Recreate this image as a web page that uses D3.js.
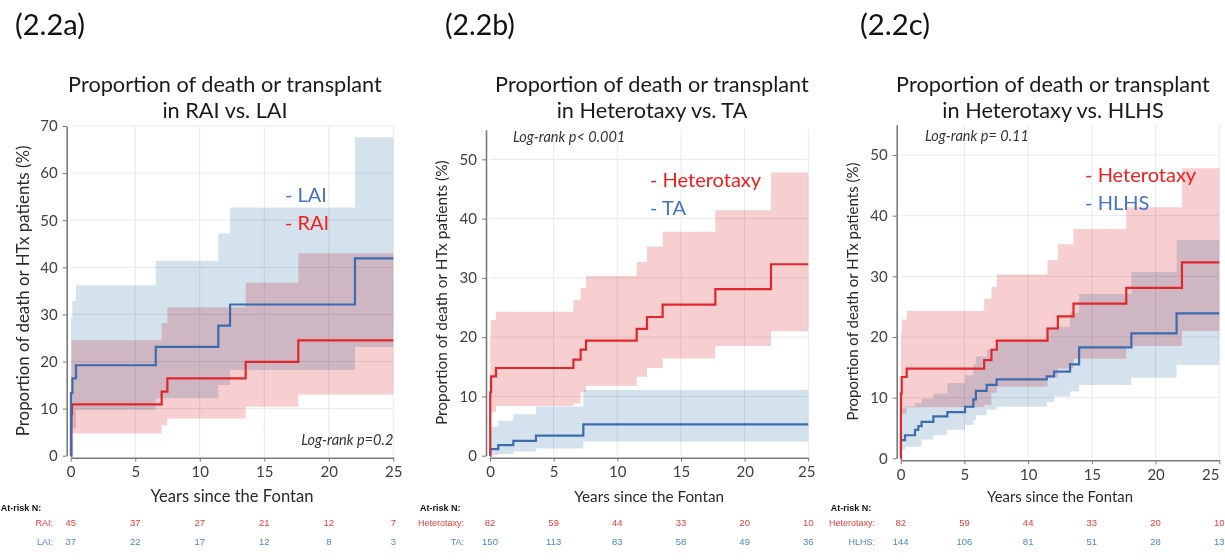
<!DOCTYPE html>
<html>
<head>
<meta charset="utf-8">
<script src="https://cdn.jsdelivr.net/npm/d3@7"></script>
<style>
  body { margin: 0; background: #fff; }
  svg { display: block; }
  text { font-family: Lato, "Open Sans", sans-serif; }
  .risk text { font-family: "Liberation Sans", Arial, sans-serif; }
  .axis path, .axis line { stroke: #7a7a7a; }
  .axis text { fill: #404040; font-size: 15px; font-family: Lato, "Open Sans", sans-serif; }
</style>
</head>
<body>
<script>

// Years on the x axis, same for all three panels
var yearTicks = [0, 5, 10, 15, 20, 25];

// (2.2a) RAI
var raiTimes   = [0, 0.06, 0.1, 7.05, 7.49, 13.56, 17.64, 25];
var raiValues  = [0, 8.8, 10.9, 13.6, 16.4, 19.9, 24.5, 24.5];
var raiCiTimes = [0.06, 7.05, 7.49, 13.56, 17.64, 25];
var raiUpper   = [24.5, 28.1, 31.5, 36.7, 43.0, 43.0];
var raiLower   = [4.7, 6.4, 7.9, 10.4, 13.0, 13.0];
var raiAtRisk  = [45, 37, 27, 21, 12, 7];

// (2.2a) LAI
var laiTimes   = [0, 0.02, 0.13, 0.41, 6.59, 11.44, 12.35, 22.03, 25];
var laiValues  = [0, 13.3, 16.4, 19.2, 23.1, 27.6, 32.1, 41.9, 41.9];
var laiCiTimes = [0.02, 0.13, 0.41, 6.59, 11.44, 12.35, 22.03, 25];
var laiUpper   = [29.4, 32.9, 36.2, 41.4, 47.2, 52.7, 67.6, 67.6];
var laiLower   = [5.8, 5.8, 9.7, 12.2, 15.0, 18.2, 23.1, 23.1];
var laiAtRisk  = [37, 22, 17, 12, 8, 3];

// Heterotaxy (used in 2.2b and 2.2c)
var hetTimes   = [0, 0.02, 0.08, 0.47, 6.55, 7.12, 7.54, 11.52, 12.33, 13.56, 17.7, 22.07, 25];
var hetValues  = [0, 10.7, 13.4, 14.8, 16.2, 17.9, 19.4, 21.4, 23.4, 25.5, 28.1, 32.3, 32.3];
var hetCiTimes = [0.02, 0.08, 0.47, 6.55, 7.12, 7.54, 11.52, 12.33, 13.56, 17.7, 22.07, 25];
var hetUpper   = [20.5, 22.9, 24.3, 26.3, 28.3, 30.3, 32.7, 35.3, 37.8, 41.4, 47.8, 47.8];
var hetLower   = [7.6, 7.4, 8.4, 8.8, 10.8, 11.8, 13.3, 14.8, 16.4, 18.5, 21.0, 21.0];
var hetAtRisk  = [82, 59, 44, 33, 20, 10];

// (2.2b) TA
var taTimes   = [0, 0.02, 0.65, 1.83, 3.61, 7.33, 25];
var taValues  = [0, 1.1, 1.8, 2.5, 3.4, 5.3, 5.3];
var taCiTimes = [0.02, 0.65, 1.83, 3.61, 7.33, 25];
var taUpper   = [4.9, 5.9, 7.0, 8.3, 11.1, 11.1];
var taLower   = [0.1, 0.3, 0.7, 1.2, 2.4, 2.4];
var taAtRisk  = [150, 113, 83, 58, 49, 36];

// (2.2c) HLHS
var hlhsTimes   = [0, 0.02, 0.34, 1.12, 1.38, 1.64, 2.56, 3.66, 5.05, 5.7, 5.9, 6.75, 7.53, 11.46, 12.03, 13.29, 14.0, 18.1, 21.65, 25];
var hlhsValues  = [0, 3.0, 3.8, 4.7, 5.3, 6.0, 6.9, 7.6, 8.5, 9.7, 11.1, 12.1, 13.0, 13.5, 14.3, 15.5, 18.3, 20.6, 23.9, 23.9];
var hlhsCiTimes = [0.02, 0.34, 1.12, 1.38, 1.64, 2.56, 3.66, 5.05, 5.7, 5.9, 6.75, 7.53, 11.46, 12.03, 13.29, 14.0, 18.1, 21.65, 25];
var hlhsUpper   = [8.2, 8.6, 9.1, 9.1, 9.8, 10.7, 12.4, 13.7, 15.5, 16.8, 17.9, 19.5, 21.7, 21.7, 24.0, 27.1, 30.7, 36.0, 36.0];
var hlhsLower   = [1.4, 1.9, 1.9, 1.9, 3.1, 3.8, 4.7, 5.5, 6.3, 7.1, 8.0, 8.5, 9.3, 10.2, 11.0, 12.1, 13.3, 15.4, 15.4];
var hlhsAtRisk  = [144, 106, 81, 51, 28, 13];

var RED = "#e3262b", BLUE = "#3d6cae";

function series(name, color, times, values, ciTimes, upper, lower, atRisk) {
  return {
    name: name, color: color,
    line: times.map(function(t, i) { return [t, values[i]]; }),
    band: ciTimes.map(function(t, i) { return {t: t, hi: upper[i], lo: lower[i]}; }),
    atRisk: atRisk
  };
}

var rai  = series("RAI", RED, raiTimes, raiValues, raiCiTimes, raiUpper, raiLower, raiAtRisk);
var lai  = series("LAI", BLUE, laiTimes, laiValues, laiCiTimes, laiUpper, laiLower, laiAtRisk);
var het  = series("Heterotaxy", RED, hetTimes, hetValues, hetCiTimes, hetUpper, hetLower, hetAtRisk);
var ta   = series("TA", BLUE, taTimes, taValues, taCiTimes, taUpper, taLower, taAtRisk);
var hlhs = series("HLHS", BLUE, hlhsTimes, hlhsValues, hlhsCiTimes, hlhsUpper, hlhsLower, hlhsAtRisk);

// layout of the three panels (pixels)
var panels = [
  { tag: "(2.2a)", tagX: 15, sub: "in RAI vs. LAI", titleX: 225,
    x0: 70.7, x1: 393.3, y0: 455.7, yTopPx: 126, yTop: 70, yTicks: [0,10,20,30,40,50,60,70],
    ylabW: 291, xlabW: 163, riskLabelX: 53, lastTickShift: 0,
    bands: [rai, lai], lines: [rai, lai], legend: [lai, rai], risk: [rai, lai],
    legendAt: [16.6, 53.9], pText: "Log-rank p=0.2", pAt: [25, 2.2], pAnchor: "end" },
  { tag: "(2.2b)", tagX: 445, sub: "in Heterotaxy vs. TA", titleX: 652,
    x0: 490, x1: 808.3, y0: 455.7, yTopPx: 129.7, yTop: 55, yTicks: [0,10,20,30,40,50],
    ylabW: 265, xlabW: 150, riskLabelX: 464, lastTickShift: -2,
    bands: [het, ta], lines: [ta, het], legend: [het, ta], risk: [het, ta],
    legendAt: [12.57, 45.3], pText: "Log-rank p< 0.001", pAt: [1.8, 52.9], pAnchor: "start" },
  { tag: "(2.2c)", tagX: 860, sub: "in Heterotaxy vs. HLHS", titleX: 1053,
    x0: 900.7, x1: 1219.3, y0: 458.3, yTopPx: 124.7, yTop: 55, yTicks: [0,10,20,30,40,50],
    ylabW: 258, xlabW: 146, riskLabelX: 875, lastTickShift: -9,
    bands: [het, hlhs], lines: [hlhs, het], legend: [het, hlhs], risk: [het, hlhs],
    legendAt: [14.47, 45.5], pText: "Log-rank p= 0.11", pAt: [1.9, 52.3], pAnchor: "start" }
];

var svg = d3.select("body").append("svg")
    .attr("width", 1225)
    .attr("height", 560);

// scale a text's font so it spans a given width
function fitWidth(sel, w) {
  sel.each(function() {
    var node = this;
    var len = node.getComputedTextLength();
    var fs = parseFloat(d3.select(node).style("font-size"));
    if (len > 0) d3.select(node).style("font-size", (fs * w / len) + "px");
  });
}

panels.forEach(function(p, pi) {
  var x = d3.scaleLinear().domain([0, 25]).range([p.x0, p.x1]);
  var y = d3.scaleLinear().domain([0, p.yTop]).range([p.y0, p.yTopPx]);
  var g = svg.append("g");

  // panel tag and title
  g.append("text").attr("x", p.tagX).attr("y", 35)
    .style("font-size", "26px").attr("fill", "#111").text(p.tag)
    .call(fitWidth, 70);
  var t1 = g.append("text").attr("x", p.titleX).attr("y", 92)
    .attr("text-anchor", "middle").style("font-size", "20px").attr("fill", "#1a1a1a")
    .text("Proportion of death or transplant");
  t1.call(fitWidth, 314);
  g.append("text").attr("x", p.titleX).attr("y", 118)
    .attr("text-anchor", "middle").style("font-size", t1.style("font-size")).attr("fill", "#1a1a1a")
    .text(p.sub);

  // grid
  var grid = g.append("g").attr("stroke", "#e9e9e9").attr("stroke-width", 1);
  grid.selectAll(".h").data(p.yTicks.filter(function(d) { return d > 0; }))
    .enter().append("line")
      .attr("x1", x(0)).attr("x2", x(25))
      .attr("y1", function(d) { return y(d); }).attr("y2", function(d) { return y(d); });
  grid.selectAll(".v").data(yearTicks.filter(function(d) { return d > 0; }))
    .enter().append("line")
      .attr("x1", function(d) { return x(d); }).attr("x2", function(d) { return x(d); })
      .attr("y1", y(0)).attr("y2", y(p.yTop));

  // confidence bands
  var area = d3.area()
      .x(function(d) { return x(d.t); })
      .y0(function(d) { return y(d.lo); })
      .y1(function(d) { return y(d.hi); })
      .curve(d3.curveStepAfter);
  p.bands.forEach(function(s) {
    g.append("path")
      .datum(s.band)
      .attr("d", area)
      .attr("fill", s.color === RED ? "#f8cfd0" : "#d4e2ee")
      .style("mix-blend-mode", "multiply");
  });

  // KM step lines
  var line = d3.line()
      .x(function(d) { return x(d[0]); })
      .y(function(d) { return y(d[1]); })
      .curve(d3.curveStepAfter);
  p.lines.forEach(function(s) {
    g.append("path")
      .datum(s.line)
      .attr("d", line)
      .attr("fill", "none")
      .attr("stroke", s.color)
      .attr("stroke-width", 2.2);
  });

  // axes
  g.append("g").attr("class", "axis")
    .attr("transform", "translate(" + (p.x0 - 4) + ",0)")
    .call(d3.axisLeft(y).tickValues(p.yTicks).tickSize(4).tickSizeOuter(0).tickPadding(5))
    .select(".domain").attr("stroke-width", 1.6);
  var xa = g.append("g").attr("class", "axis")
    .attr("transform", "translate(0," + (p.y0 + 2) + ")")
    .call(d3.axisBottom(x).tickValues(yearTicks).tickSize(4).tickSizeOuter(0).tickPadding(5));
  xa.select(".domain").attr("stroke-width", 1.6);
  // last label sits close to the right edge of the page
  xa.selectAll(".tick text").filter(function(d) { return d === 25; })
    .attr("dx", p.lastTickShift);

  // axis titles
  g.append("text")
    .attr("transform", "translate(" + (p.x0 - 48) + "," + ((p.y0 + p.yTopPx) / 2) + ") rotate(-90)")
    .attr("text-anchor", "middle").attr("dy", "0.35em")
    .style("font-size", "15px").attr("fill", "#2a2a2a")
    .text("Proportion of death or HTx patients (%)")
    .call(fitWidth, p.ylabW);
  g.append("text")
    .attr("x", (p.x0 + p.x1) / 2).attr("y", 502)
    .attr("text-anchor", "middle")
    .style("font-size", "15px").attr("fill", "#2a2a2a")
    .text("Years since the Fontan")
    .call(fitWidth, p.xlabW);

  // legend
  p.legend.forEach(function(s, i) {
    g.append("text")
      .attr("x", x(p.legendAt[0])).attr("y", y(p.legendAt[1]) + i * 28)
      .style("font-size", "20px")
      .attr("fill", s.color === RED ? "#f51c1c" : "#4472c4")
      .text("- " + s.name);
  });

  // log-rank note
  g.append("text")
    .attr("x", x(p.pAt[0])).attr("y", y(p.pAt[1]))
    .attr("text-anchor", p.pAnchor)
    .style("font-size", "14.5px").style("font-style", "italic")
    .attr("fill", "#333")
    .text(p.pText);

  // number at risk
  var risk = g.append("g").attr("class", "risk");
  risk.append("text")
    .attr("x", p.x0 - 70).attr("y", 511)
    .style("font-size", "9px").style("font-weight", "bold").attr("fill", "#111")
    .text("At-risk N:");
  p.risk.forEach(function(s, i) {
    var col = s.color === RED ? "#ef3b3b" : "#4d87cc";
    var ry = 526 + i * 19;
    risk.append("text")
      .attr("x", p.riskLabelX).attr("y", ry)
      .attr("text-anchor", "end")
      .style("font-size", "9px").attr("fill", col)
      .text(s.name + ":");
    risk.selectAll(".n" + i).data(s.atRisk)
      .enter().append("text")
        .attr("x", function(d, j) { return x(yearTicks[j]); })
        .attr("y", ry)
        .attr("text-anchor", "middle")
        .style("font-size", "9.5px").attr("fill", col)
        .text(function(d) { return d; });
  });
});

</script>
</body>
</html>
